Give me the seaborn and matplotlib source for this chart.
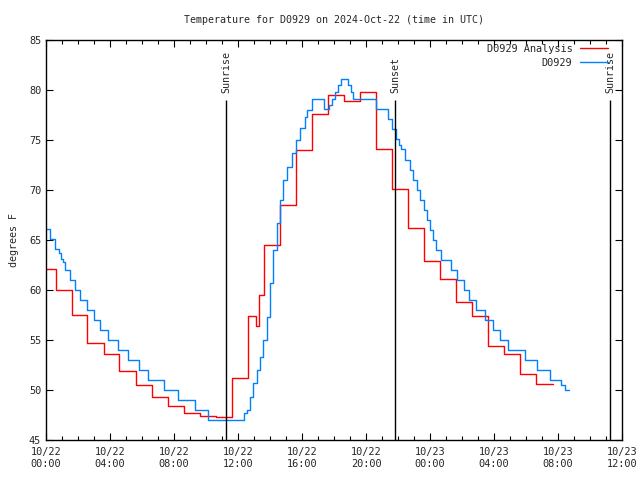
import pandas as pd
import numpy as np
import matplotlib
matplotlib.use("Agg")
import matplotlib.pyplot as plt
import matplotlib.dates as mdates
import seaborn as sns

# data (hours after 2024-10-22 00:00 UTC, degrees F)
obs_hours = [0.0, 0.25, 0.56, 0.83, 0.92, 1.08, 1.19, 1.5, 1.81, 2.1, 2.54, 3.0, 3.4, 3.9,
             4.5, 5.1, 5.8, 6.4, 7.4, 8.27, 9.3, 10.1, 12.4, 12.54, 12.75, 12.96, 13.17,
             13.38, 13.58, 13.79, 14.0, 14.2, 14.42, 14.6, 14.83, 15.08, 15.35, 15.6, 15.9,
             16.2, 16.33, 16.6, 17.35, 17.7, 17.85, 18.05, 18.25, 18.45, 18.9, 19.05, 19.2,
             20.6, 21.4, 21.6, 21.9, 22.05, 22.2, 22.44, 22.75, 22.96, 23.2, 23.4, 23.6,
             23.8, 24.0, 24.2, 24.4, 24.7, 25.3, 25.67, 26.1, 26.46, 26.9, 27.44, 27.96,
             28.4, 28.9, 29.94, 30.7, 31.5, 32.2, 32.44, 32.7]
obs_temps = [66.1, 65.1, 64.1, 63.7, 63.1, 62.8, 62.0, 61.0, 60.0, 59.0, 58.0, 57.0, 56.0, 55.0,
             54.0, 53.0, 52.0, 51.0, 50.0, 49.0, 48.0, 47.0, 47.7, 48.0, 49.3, 50.7, 52.0,
             53.3, 55.0, 57.3, 60.7, 64.0, 66.7, 69.0, 71.0, 72.3, 73.7, 75.0, 76.2,
             77.3, 78.0, 79.1, 78.1, 78.5, 79.1, 79.8, 80.5, 81.1, 80.5, 79.8, 79.1,
             78.1, 77.1, 76.1, 75.1, 74.5, 74.1, 73.0, 72.0, 71.0, 70.0, 69.0, 68.0,
             67.0, 66.0, 65.0, 64.0, 63.0, 62.0, 61.0, 60.0, 59.0, 58.0, 57.0, 56.0,
             55.0, 54.0, 53.0, 52.0, 51.0, 50.5, 50.0, 50.0]

ana_hours = [0.0, 0.6, 1.6, 2.55, 3.6, 4.56, 5.6, 6.6, 7.6, 8.6, 9.6, 10.6, 11.6, 12.6,
             13.1, 13.3, 13.6, 14.6, 15.6, 16.6, 17.6, 18.6, 19.6, 20.6, 21.6, 22.6,
             23.6, 24.6, 25.6, 26.6, 27.6, 28.6, 29.6, 30.6, 31.7]
ana_temps = [62.1, 60.0, 57.5, 54.7, 53.6, 51.9, 50.5, 49.3, 48.4, 47.7, 47.4, 47.3, 51.2, 57.4,
             56.4, 59.5, 64.5, 68.5, 74.0, 77.6, 79.5, 78.9, 79.8, 74.1, 70.1, 66.2,
             62.9, 61.1, 58.8, 57.4, 54.4, 53.6, 51.6, 50.6, 50.6]

sun_hours = [11.25, 21.82, 35.25]
sun_labels = ["Sunrise", "Sunset", "Sunrise"]

series_names = ["D0929 Analysis", "D0929"]
series_colors = ["#ff0000", "#0080ff"]

start = pd.Timestamp("2024-10-22 00:00")

df = pd.concat([
    pd.DataFrame({"time": start + pd.to_timedelta(ana_hours, unit="h"),
                  "temp": ana_temps, "series": series_names[0]}),
    pd.DataFrame({"time": start + pd.to_timedelta(obs_hours, unit="h"),
                  "temp": obs_temps, "series": series_names[1]}),
])

sns.set_style("ticks")
plt.rcParams["font.family"] = ["DejaVu Sans Mono", "DejaVu Sans"]
plt.rcParams["font.size"] = 7.2

fig = plt.figure(figsize=(6.4, 4.8), dpi=100)
ax = fig.add_axes([46 / 640, 40 / 480, 576 / 640, 400 / 480])

sns.lineplot(data=df, x="time", y="temp", hue="series", hue_order=series_names,
             palette=dict(zip(series_names, series_colors)), estimator=None,
             drawstyle="steps-post", linewidth=1.0, ax=ax)

# sunrise / sunset markers
for h, lab in zip(sun_hours, sun_labels):
    t = start + pd.Timedelta(hours=h)
    ax.vlines(t, 45, 79, color="black", linewidth=1.0)
    ax.text(t, 79.7, lab, rotation=90, ha="center", va="bottom", fontsize=7.2)

ax.set_xlim(start, start + pd.Timedelta(hours=36))
ax.set_ylim(45, 85)
ax.set_yticks(np.arange(45, 86, 5))
ax.xaxis.set_major_locator(mdates.HourLocator(byhour=range(0, 24, 4)))
ax.xaxis.set_minor_locator(mdates.HourLocator())
ax.xaxis.set_major_formatter(mdates.DateFormatter("%m/%d\n%H:%M"))

ax.tick_params(which="both", direction="in", top=True, right=True, labelsize=7.4, color="black")
ax.tick_params(which="major", length=5, width=0.8)
ax.tick_params(axis="x", which="major", pad=5)
ax.tick_params(which="minor", length=3, width=0.8)
for s in ax.spines.values():
    s.set_color("black")
    s.set_linewidth(1.0)

ax.set_title("Temperature for D0929 on 2024-Oct-22 (time in UTC)", fontsize=7.2, pad=12)
ax.set_xlabel("")
ax.set_ylabel("degrees F", fontsize=7.2, labelpad=7)

handles, labels = ax.get_legend_handles_labels()
ax.legend(handles, labels, loc="upper right", bbox_to_anchor=(0.98, 0.995),
          frameon=False, markerfirst=False, fontsize=7.4, handlelength=2.8,
          handletextpad=0.7, labelspacing=0.35, borderaxespad=0, borderpad=0.2)

fig.savefig("out.png", dpi=100)
